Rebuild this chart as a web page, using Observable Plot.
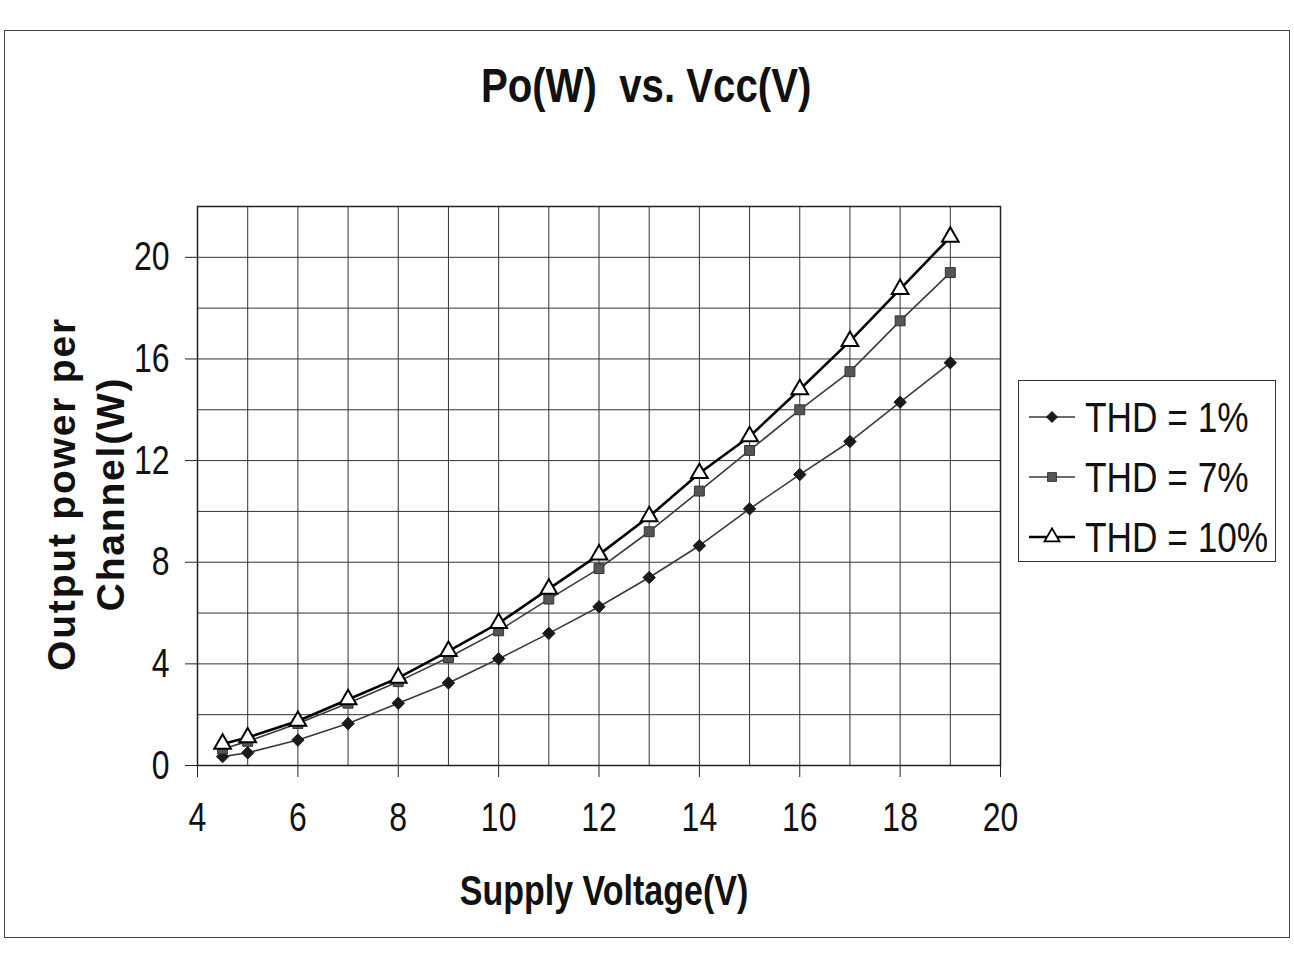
<!DOCTYPE html>
<html>
<head>
<meta charset="utf-8">
<script src="https://cdn.jsdelivr.net/npm/d3@7"></script>
<script src="https://cdn.jsdelivr.net/npm/@observablehq/plot@0.6"></script>
<style>
  html, body { margin: 0; padding: 0; background: #fff; }
  #wrap { position: relative; width: 1294px; height: 955px; overflow: hidden; background: #fff; }
  #wrap > svg { position: absolute; left: 0; top: 0; }
  .outer { position: absolute; left: 4px; top: 30px; width: 1286px; height: 908px; border: 1.5px solid #444; box-sizing: border-box; }
  .title { position: absolute; left: 0; width: 1294px; top: 57px; text-align: center; font-family: "Liberation Sans", Arial, sans-serif; font-weight: bold; font-size: 49px; line-height: 56px; white-space: pre; color: #111; transform: scaleX(0.82); transform-origin: 642px 0; }
  .xlabel { position: absolute; left: 304px; width: 600px; top: 866px; text-align: center; font-family: "Liberation Sans", Arial, sans-serif; font-weight: bold; font-size: 42px; line-height: 50px; color: #111; transform: scaleX(0.81); transform-origin: 300px 0; }
  .ylabel { position: absolute; left: 86px; top: 494px; width: 0; height: 0; }
  .ylabel div { position: absolute; transform: translate(-50%, -50%) rotate(-90deg); white-space: nowrap; text-align: center; font-family: "Liberation Sans", Arial, sans-serif; font-weight: bold; font-size: 39px; line-height: 49px; letter-spacing: 1.8px; color: #111; }
  .legend { position: absolute; left: 1018px; top: 380px; width: 258px; height: 182px; border: 1.5px solid #333; box-sizing: border-box; background: #fff; font-family: "Liberation Sans", Arial, sans-serif; color: #111; }
  .legend .row { position: absolute; left: 8px; height: 44px; display: flex; align-items: center; }
  .legend svg { margin-right: 8px; flex: none; }
  .legend span { display: inline-block; font-size: 43px; line-height: 44px; transform: scaleX(0.82); transform-origin: 0 50%; white-space: nowrap; }
</style>
</head>
<body>
<div id="wrap">
  <div class="outer"></div>
</div>
<script>
// ---- data ----
const supplyVoltage = [4.5, 5, 6, 7, 8, 9, 10, 11, 12, 13, 14, 15, 16, 17, 18, 19];
const thd1  = [0.35, 0.5, 1.0, 1.65, 2.45, 3.25, 4.2, 5.2, 6.25, 7.4, 8.65, 10.1, 11.45, 12.75, 14.3, 15.85];
const thd7  = [0.65, 0.95, 1.65, 2.45, 3.3, 4.25, 5.3, 6.55, 7.75, 9.2, 10.8, 12.4, 14.0, 15.5, 17.5, 19.4];
const thd10 = [0.85, 1.1, 1.75, 2.6, 3.45, 4.5, 5.6, 6.95, 8.3, 9.8, 11.5, 12.95, 14.8, 16.7, 18.75, 20.8];
const seriesNames = ["THD = 1%", "THD = 7%", "THD = 10%"];
const xTickLabels = [4, 6, 8, 10, 12, 14, 16, 18, 20];
const yTickLabels = [0, 4, 8, 12, 16, 20];
const xGridValues = [4, 5, 6, 7, 8, 9, 10, 11, 12, 13, 14, 15, 16, 17, 18, 19, 20];
const yGridValues = [0, 2, 4, 6, 8, 10, 12, 14, 16, 18, 20, 22];
const titleText = "Po(W)  vs. Vcc(V)";
const xTitle = "Supply Voltage(V)";
const yTitleLines = ["Output power per", "Channel(W)"];

// ---- styles ----
const seriesStyle = {
  "THD = 1%":  {symbol: "diamond2", r: 5.6, fill: "#1a1a1a", stroke: "#1a1a1a", lineStroke: "#3a3a3a", lineWidth: 1.6, sw: 1},
  "THD = 7%":  {symbol: "square",   r: 5.6, fill: "#555",    stroke: "#333",    lineStroke: "#3a3a3a", lineWidth: 1.6, sw: 1},
  "THD = 10%": {symbol: "triangle", r: 6.2, fill: "#fff",    stroke: "#000",    lineStroke: "#000",    lineWidth: 2.6, sw: 2}
};

const valuesBySeries = [thd1, thd7, thd10];
const data = [];
seriesNames.forEach((name, i) => {
  supplyVoltage.forEach((v, j) => data.push({series: name, vcc: v, po: valuesBySeries[i][j]}));
});

const lineMarks = [];
const dotMarks = [];
seriesNames.forEach(name => {
  const s = seriesStyle[name];
  const sub = data.filter(d => d.series === name);
  lineMarks.push(Plot.line(sub, {x: "vcc", y: "po", stroke: s.lineStroke, strokeWidth: s.lineWidth}));
  dotMarks.push(Plot.dot(sub, {x: "vcc", y: "po", symbol: () => s.symbol, r: s.r, fill: s.fill, stroke: s.stroke, strokeWidth: s.sw}));
});

const chart = Plot.plot({
  width: 1294,
  height: 955,
  marginLeft: 197,
  marginRight: 294,
  marginTop: 206,
  marginBottom: 190,
  style: {fontFamily: "'Liberation Sans', Arial, sans-serif", color: "#111", background: "transparent"},
  x: {domain: [4, 20]},
  y: {domain: [0, 22]},
  symbol: {type: "identity"},
  marks: [
    Plot.gridX(xGridValues, {stroke: "#333", strokeOpacity: 1, strokeWidth: 1}),
    Plot.gridY(yGridValues, {stroke: "#333", strokeOpacity: 1, strokeWidth: 1}),
    Plot.frame({stroke: "#222", strokeWidth: 1.5}),
    Plot.axisX(xTickLabels, {tickSize: 12, tickPadding: 24, fontSize: 41, label: null, stroke: "#222"}),
    Plot.axisY(yTickLabels, {tickSize: 12, tickPadding: 16, fontSize: 41, label: null, stroke: "#222"}),
    ...lineMarks,
    ...dotMarks
  ]
});
const wrap = document.getElementById("wrap");
wrap.appendChild(chart);

// narrow the tick labels (the reference uses a condensed face)
d3.select(chart).selectAll("g[aria-label$='tick label'] text").each(function () {
  const tr = this.getAttribute("transform") || "";
  const x = +this.getAttribute("x") || 0;
  const y = +this.getAttribute("y") || 0;
  this.setAttribute("transform", `${tr} translate(${x},${y}) scale(0.78,1) translate(${-x},${-y})`);
});

// title and axis titles
const t = document.createElement("div"); t.className = "title"; t.textContent = titleText; wrap.appendChild(t);
const xl = document.createElement("div"); xl.className = "xlabel"; xl.textContent = xTitle; wrap.appendChild(xl);
const yl = document.createElement("div"); yl.className = "ylabel";
const yli = document.createElement("div"); yli.innerHTML = yTitleLines.join("<br>"); yl.appendChild(yli); wrap.appendChild(yl);

// legend
const legend = document.createElement("div"); legend.className = "legend";
seriesNames.forEach((name, i) => {
  const s = seriesStyle[name];
  const row = document.createElement("div"); row.className = "row"; row.style.top = (14 + i * 60) + "px";
  const sw = d3.create("svg").attr("width", 50).attr("height", 20);
  sw.append("line").attr("x1", 2).attr("x2", 48).attr("y1", 10).attr("y2", 10).attr("stroke", s.lineStroke).attr("stroke-width", s.lineWidth);
  const sym = {diamond2: d3.symbolDiamond2, square: d3.symbolSquare, triangle: d3.symbolTriangle}[s.symbol];
  sw.append("path").attr("transform", "translate(25,10)").attr("d", d3.symbol(sym, Math.PI * s.r * s.r * 0.8)())
    .attr("fill", s.fill).attr("stroke", s.stroke).attr("stroke-width", s.sw * 0.9);
  row.appendChild(sw.node());
  const lab = document.createElement("span"); lab.textContent = name; row.appendChild(lab);
  legend.appendChild(row);
});
wrap.appendChild(legend);
</script>
</body>
</html>
